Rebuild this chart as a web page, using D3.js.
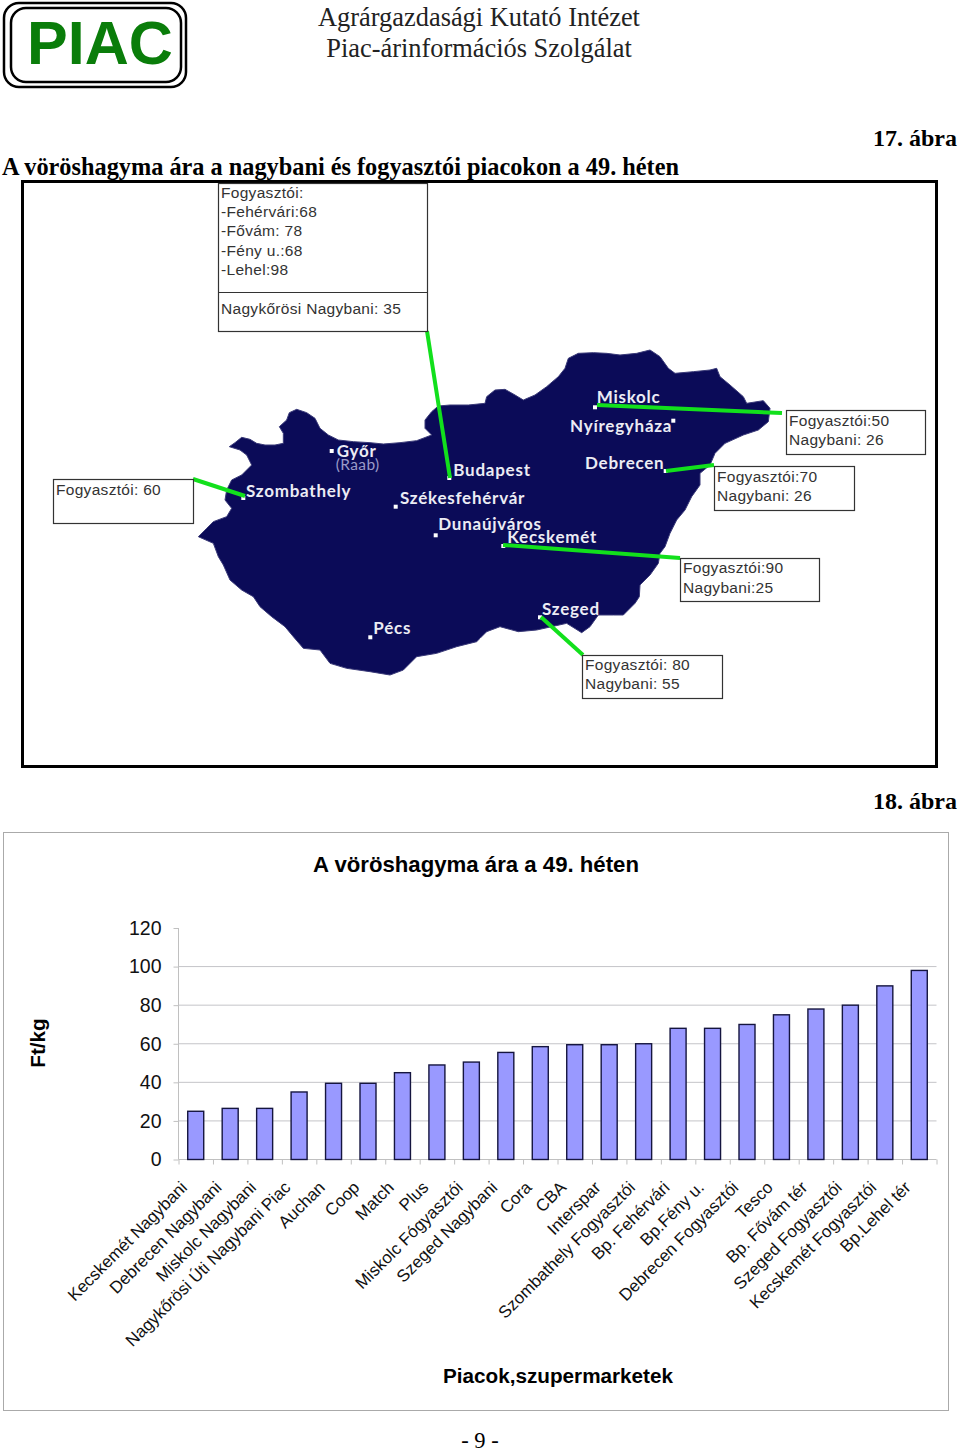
<!DOCTYPE html>
<html><head><meta charset="utf-8">
<script src="https://cdn.jsdelivr.net/npm/d3@7"></script>
<style>html,body{margin:0;padding:0;background:#fff}svg{display:block}</style></head>
<body><svg id="c" width="960" height="1453"></svg>
<script>
const categories=["Kecskemét Nagybani","Debrecen Nagybani","Miskolc Nagybani","Nagykőrösi Úti Nagybani Piac","Auchan","Coop","Match","Plus","Miskolc Fógyasztói","Szeged Nagybani","Cora","CBA","Interspar","Szombathely Fogyasztói","Bp. Fehérvári","Bp.Fény u.","Debrecen Fogyasztói","Tesco","Bp. Fővám tér","Szeged Fogyasztói","Kecskemét Fogyasztói","Bp.Lehel tér"];
const prices=[25,26.5,26.5,35,39.5,39.5,45,49,50.5,55.5,58.5,59.5,59.5,60,68,68,70,75,78,80,90,98];
const yTicks=[0,20,40,60,80,100,120];
// map outline, as pixels of two 3x crops
const outlineWestTop=[[118,140],[135,128],[155,112],[180,118],[200,130],[225,135],[255,135],[280,130],[280,100],[268,80],[290,60],[298,38],[320,28],[350,38],[375,55],[390,85],[415,105],[445,120],[490,125],[540,128],[580,132],[630,128],[680,122],[725,105],[705,85],[705,60],[725,35],[745,18],[780,15],[835,15],[885,10]];
const outlineEast=[[20,170],[45,150],[75,148],[105,165],[130,180],[165,165],[200,140],[235,110],[255,85],[265,55],[295,40],[340,38],[380,40],[420,45],[470,40],[510,30],[540,50],[565,85],[585,100],[640,95],[690,90],[710,85],[720,110],[750,135],[790,170],[800,190],[850,182],[870,205],[865,245],[835,270],[790,285],[735,310],[705,340],[690,375],[660,400],[660,435],[635,470],[615,510],[590,540],[570,580],[555,620],[540,640],[535,670],[510,705],[480,735],[478,770],[465,790],[430,825],[400,825],[355,825],[330,860],[305,878],[260,850],[215,860],[170,870],[115,875],[60,860],[20,875],[0,895]];
const outlineWestBottom=[[860,725],[800,740],[740,760],[680,770],[640,810],[600,825],[540,815],[470,805],[420,790],[390,750],[340,745],[310,710],[285,680],[245,650],[210,620],[190,590],[155,570],[120,540],[100,495],[85,470],[70,430],[25,410],[50,385],[70,365],[110,350],[125,325],[105,300],[110,270],[125,240],[155,225],[185,195],[170,165],[150,150]];
const cities=[["Miskolc",596.7,403.3,595,407.3],["Nyíregyháza",570,431.7,673.3,420.7],["Győr",336.7,456.7,331.7,451],["Budapest",453.3,476,449.3,478],["Debrecen",585,469.3,665.7,471],["Szombathely",246,497.3,243.3,498],["Székesfehérvár",400,504,395.7,506.7],["Dunaújváros",438.3,530,435.7,535.3],["Kecskemét",507.3,543.3,503.3,546],["Szeged",542,615.3,540,617.3],["Pécs",373.3,634,370.3,637.3]];
const callouts=[
 {box:[218,183,427,331],lines:[["Fogyasztói:",198],["-Fehérvári:68",217],["-Fővám: 78",236],["-Fény u.:68",256],["-Lehel:98",275],["Nagykőrösi Nagybani: 35",314]]},
 {box:[53,479,193,523],lines:[["Fogyasztói: 60",495]]},
 {box:[786,410,925,454],lines:[["Fogyasztói:50",426],["Nagybani: 26",445]]},
 {box:[714,466,854,510],lines:[["Fogyasztói:70",482],["Nagybani: 26",501]]},
 {box:[680,558,819,601],lines:[["Fogyasztói:90",573],["Nagybani:25",593]]},
 {box:[582,655,722,698],lines:[["Fogyasztói: 80",670],["Nagybani: 55",689]]}];
const leaders=[[427,331,450,478],[597,405,782,413],[666,471,714,465],[503,545,680,558],[541,617,583,655],[245,496,193,479]];

const svg=d3.select("#c");
const serif="'Liberation Serif',serif", sans="'Liberation Sans',Arial,sans-serif";
function T(x,y,s,size,o={}){return svg.append("text").attr("x",x).attr("y",y).text(s).attr("font-family",o.f||serif).attr("font-size",size).attr("font-weight",o.w||"normal").attr("text-anchor",o.a||"start").attr("fill",o.c||"#000");}

// logo
[[3,2,187,88],[10,7,182,83]].forEach(r=>svg.append("rect").attr("x",r[0]+1).attr("y",r[1]+1).attr("width",r[2]-r[0]-2).attr("height",r[3]-r[1]-2).attr("rx",15).attr("fill","none").attr("stroke","#000").attr("stroke-width",2.5));
T(27,63.5,"PIAC",61,{f:sans,w:"bold",c:"#0a7d0a"});
T(479,26,"Agrárgazdasági Kutató Intézet",26.4,{a:"middle",c:"#222"});
T(479,57,"Piac-árinformációs Szolgálat",26.4,{a:"middle",c:"#222"});
T(2,175,"A vöröshagyma ára a nagybani és fogyasztói piacokon a 49. héten",24.3,{w:"bold"});
T(957,146,"17. ábra",24,{w:"bold",a:"end"});
T(957,809,"18. ábra",24,{w:"bold",a:"end"});

// map frame
svg.append("rect").attr("x",22.5).attr("y",181.5).attr("width",914).attr("height",585).attr("fill","#fff").attr("stroke","#000").attr("stroke-width",3);
const wx=d3.scaleLinear().domain([0,900]).range([190,490]), wy=d3.scaleLinear().domain([0,840]).range([400,680]);
const ex=d3.scaleLinear().domain([0,900]).range([480,780]), ey=d3.scaleLinear().domain([0,1020]).range([340,680]);
const outline=[...outlineWestTop.map(p=>[wx(p[0]),wy(p[1])]),...outlineEast.map(p=>[ex(p[0]),ey(p[1])]),...outlineWestBottom.map(p=>[wx(p[0]),wy(p[1])])];
svg.append("path").attr("d",d3.line().curve(d3.curveLinearClosed)(outline)).attr("fill","#0b0b58").attr("stroke","#3a3a78").attr("stroke-width",1).attr("stroke-linejoin","round");
cities.forEach(c=>{
 T(c[1],c[2],c[0],17,{f:"Lato,sans-serif",w:"bold",c:"#ecECf4"}).attr("letter-spacing",.75);
 svg.append("rect").attr("x",c[3]-2).attr("y",c[4]-2).attr("width",4).attr("height",4).attr("fill","#fff");
});
T(335.7,470,"(Raab)",15.5,{f:"Lato,sans-serif",c:"#9a9ac8"}).attr("letter-spacing",.4);
svg.selectAll(".leader").data(leaders).join("line").attr("x1",d=>d[0]).attr("y1",d=>d[1]).attr("x2",d=>d[2]).attr("y2",d=>d[3]).attr("stroke","#12e01c").attr("stroke-width",4);
callouts.forEach(c=>{
 const b=c.box;
 svg.append("rect").attr("x",b[0]+.5).attr("y",b[1]+.5).attr("width",b[2]-b[0]).attr("height",b[3]-b[1]).attr("fill","#fff").attr("stroke","#333").attr("stroke-width",1.2);
 c.lines.forEach(l=>T(b[0]+3,l[1],l[0],15.5,{f:sans,c:"#333"}).attr("letter-spacing",.3));
});
svg.append("line").attr("x1",218).attr("x2",427).attr("y1",292.5).attr("y2",292.5).attr("stroke","#333");

// chart
svg.append("rect").attr("x",3.5).attr("y",832.5).attr("width",945).attr("height",578).attr("fill","#fff").attr("stroke","#aaa");
T(476,872,"A vöröshagyma ára a 49. héten",22.2,{f:sans,w:"bold",a:"middle"});
T(558,1383,"Piacok,szupermarketek",20.7,{f:sans,w:"bold",a:"middle"});
T(0,0,"Ft/kg",20.7,{f:sans,w:"bold",a:"middle"}).attr("transform","translate(45,1043) rotate(-90)");
const L=178.5,R=936.5,B=1159.5,Top=928;
const x=d3.scaleBand().domain(categories).range([L,R]).paddingInner(0).paddingOuter(0);
const y=d3.scaleLinear().domain([0,120]).range([B,Top]);
const gy=svg.append("g").attr("transform",`translate(${L},0)`).call(d3.axisLeft(y).tickValues(yTicks).tickSize(5).tickPadding(12));
gy.select(".domain").attr("stroke","#c0c0c0").attr("d",`M0,${Top}V${B}`);
gy.selectAll("line").attr("stroke","#c0c0c0");
gy.selectAll("text").attr("font-family",sans).attr("font-size",19.5).attr("fill","#111");
svg.append("g").selectAll("line").data(yTicks.slice(1,-1)).join("line").attr("x1",L).attr("x2",R).attr("y1",d=>y(d)).attr("y2",d=>y(d)).attr("stroke","#c4c4c8").attr("stroke-width",1);
const edge=d3.scaleLinear().domain([0,categories.length]).range([L,R]);
const gx=svg.append("g").attr("transform",`translate(0,${B})`).call(d3.axisBottom(edge).tickValues(d3.range(categories.length+1)).tickSize(5).tickFormat(""));
gx.select(".domain").attr("stroke","#c0c0c0").attr("d",`M${L},0H${R}`);
gx.selectAll("line").attr("stroke","#c0c0c0");
svg.selectAll(".bar").data(categories).join("rect").attr("x",d=>x(d)+x.bandwidth()/2-8).attr("width",16).attr("y",(d,i)=>y(prices[i])).attr("height",(d,i)=>B-y(prices[i])).attr("fill","#9999ff").attr("stroke","#15153f").attr("stroke-width",1.4);
categories.forEach(c=>{
 T(0,0,c,17,{f:sans,a:"end",c:"#111"}).attr("transform",`translate(${x(c)+x.bandwidth()/2-7.5},${B+29}) rotate(-45)`);
});
T(480,1448,"- 9 -",22.5,{a:"middle"});
</script></body></html>
